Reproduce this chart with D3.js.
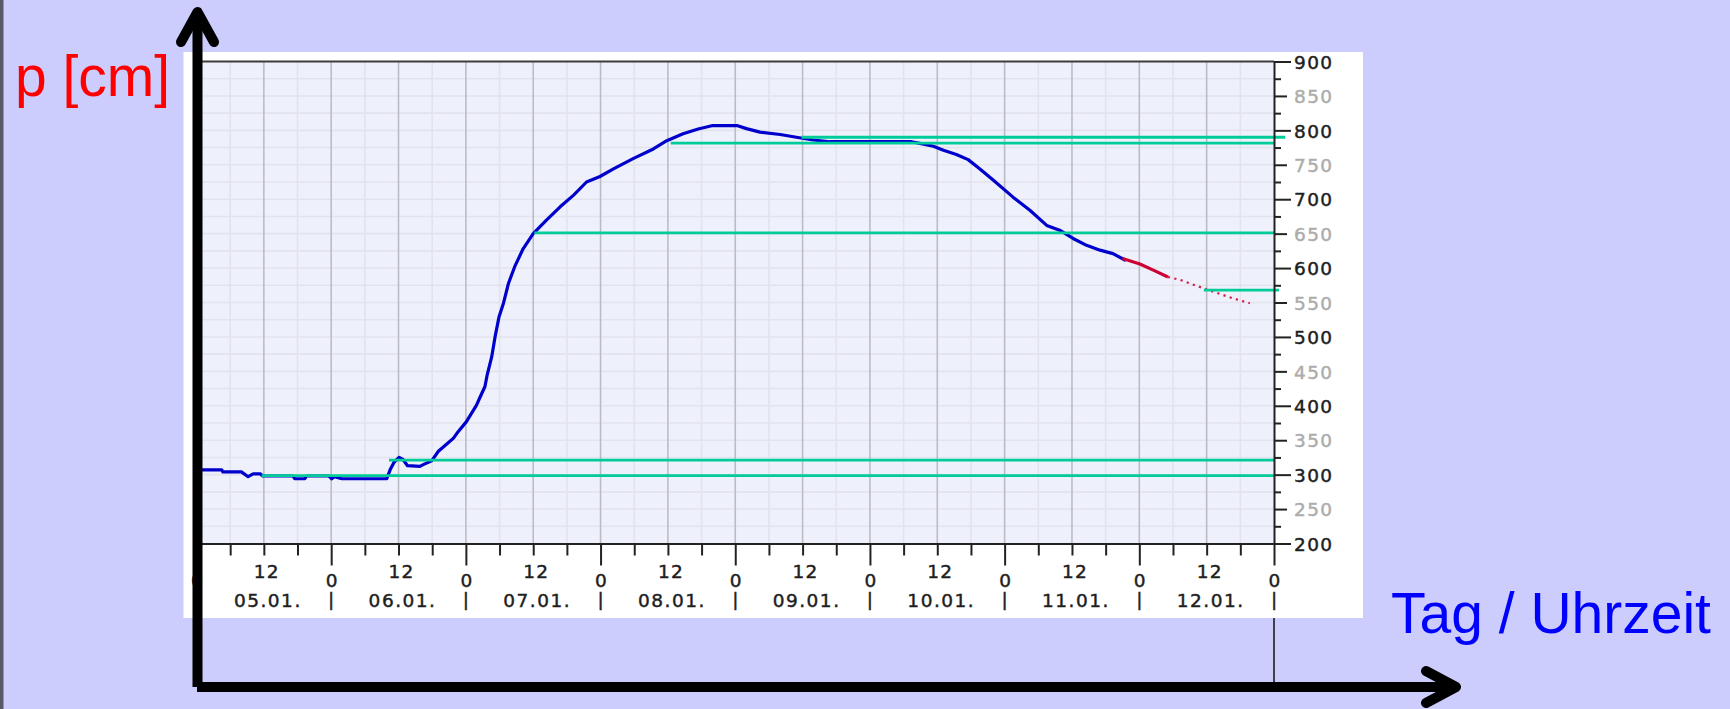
<!DOCTYPE html>
<html>
<head>
<meta charset="utf-8">
<script src="https://cdn.jsdelivr.net/npm/d3@7"></script>
<style>
  html, body { margin: 0; padding: 0; background: #ccccfd; }
  svg { display: block; }
</style>
</head>
<body>
<svg id="chart" width="1730" height="709"></svg>
<script>
// Water level p [cm]; time in hours since 05.01. 00:00
const obsHours = [0, 4.5, 4.7, 8.0, 9.2, 10.1, 11.4, 11.8, 17.2, 17.5, 19.3, 19.6, 23.6, 24.1, 24.6, 25.9,
  33.9, 34.5, 35.2, 36.1, 36.8, 37.6, 39.8, 40.4, 41.9, 43.1, 44.6, 45.8, 46.4, 48.1, 49.0, 49.9,
  50.5, 51.4, 51.8, 52.6, 53.2, 53.9, 54.7, 55.6, 56.7, 58.2, 60.0, 62.4, 64.8, 67.2, 69.5, 71.9,
  74.3, 77.8, 81.4, 83.8, 86.7, 89.4, 92.0, 96.3, 98.0, 100.4, 104.0, 106.9, 109.9, 112.9, 127.4,
  128.9, 131.3, 133.1, 135.4, 137.5, 139.6, 142.0, 145.5, 148.5, 151.5, 153.8, 156.2, 158.6, 161.0,
  163.3, 165.6];
const obsLevel = [307, 307, 304, 304, 297, 301, 301, 298, 298, 294, 294, 298, 298, 294, 297, 294,
  294, 307, 318, 325, 322, 313, 312, 314.5, 320, 334, 344.5, 353, 360, 377, 389, 401,
  412, 428, 445, 471, 500, 529, 549, 578, 602, 628, 650, 670, 689, 706, 725, 733,
  744, 759, 773, 785, 795, 802, 807, 807, 802.5, 797.5, 794, 790, 786, 783.5, 783.5,
  781, 777, 771, 765, 757.5, 744, 727.5, 703, 684, 662, 655, 643, 633, 626,
  621, 611];

// Forecast: near-term (solid) and extended (dotted)
const fcHours = [165.0, 168.1, 170.5, 173.1];
const fcLevel = [614, 606, 597, 587];
const fcExtHours = [173.1, 175.2, 180.0, 184.7, 187.7];
const fcExtLevel = [587, 583, 569, 556, 549];

// Horizontal marker levels with the hours they span
const markLevel = [298.5, 321, 651, 781.5, 790, 568];
const markFrom = [11.6, 34.3, 60.2, 84.5, 107.8, 179.5];
const markTo = [192.1, 192.1, 192.2, 192.1, 194.0, 192.9];

const levelTicks = d3.range(200, 901, 25);
const hourTicks = d3.range(0, 193, 6);
const hourLabelTicks = d3.range(0, 193, 12);
const dayLabels = ["05.01.", "06.01.", "07.01.", "08.01.", "09.01.", "10.01.", "11.01.", "12.01."];

const svg = d3.select("#chart");
const W = 1730, H = 709;
const plot = { left: 196.5, right: 1274, top: 61.5, bottom: 543.5 };

const x = d3.scaleLinear().domain([0, 192]).range([plot.left, plot.right]);
const y = d3.scaleLinear().domain([200, 900]).range([plot.bottom, plot.top]);

// page background and left edge strip
svg.append("rect").attr("width", W).attr("height", H).attr("fill", "#ccccfd");
svg.append("rect").attr("x", 0).attr("y", 0).attr("width", 3.5).attr("height", H).attr("fill", "#585868");

// white chart panel
svg.append("rect").attr("x", 183.5).attr("y", 52).attr("width", 1179.5).attr("height", 566).attr("fill", "#ffffff");

// plot background
svg.append("rect")
  .attr("x", plot.left).attr("y", plot.top)
  .attr("width", plot.right - plot.left).attr("height", plot.bottom - plot.top)
  .attr("fill", "#eef0fc");

const grid = svg.append("g");
grid.selectAll("line.h").data(levelTicks.filter(v => v > 200 && v < 900)).join("line")
  .attr("x1", plot.left).attr("x2", plot.right)
  .attr("y1", d => y(d)).attr("y2", d => y(d))
  .attr("stroke", "#e2e3ec").attr("stroke-width", 1.6);
grid.selectAll("line.vm").data(hourTicks.filter(h => h % 12 !== 0)).join("line")
  .attr("x1", d => x(d)).attr("x2", d => x(d))
  .attr("y1", plot.top).attr("y2", plot.bottom)
  .attr("stroke", "#e2e3ec").attr("stroke-width", 1.6);
grid.selectAll("line.vM").data(hourLabelTicks.filter(h => h > 0 && h < 192)).join("line")
  .attr("x1", d => x(d)).attr("x2", d => x(d))
  .attr("y1", plot.top).attr("y2", plot.bottom)
  .attr("stroke", "#bcbcc4").attr("stroke-width", 1.6);

// top frame
svg.append("line")
  .attr("x1", plot.left).attr("x2", plot.right)
  .attr("y1", plot.top).attr("y2", plot.top)
  .attr("stroke", "#3c3c3c").attr("stroke-width", 2);

// level curves
const line = d3.line().x(d => x(d[0])).y(d => y(d[1]));
svg.append("path")
  .datum(d3.zip(obsHours, obsLevel))
  .attr("d", line).attr("fill", "none")
  .attr("stroke", "#0000cc").attr("stroke-width", 3.2)
  .attr("stroke-linejoin", "round");
svg.append("path")
  .datum(d3.zip(fcHours, fcLevel))
  .attr("d", line).attr("fill", "none")
  .attr("stroke", "#cc0033").attr("stroke-width", 3.2)
  .attr("stroke-linejoin", "round");
svg.append("path")
  .datum(d3.zip(fcExtHours, fcExtLevel))
  .attr("d", line).attr("fill", "none")
  .attr("stroke", "#d81c48").attr("stroke-width", 2.2)
  .attr("stroke-dasharray", "2.2,4.3");

// marker levels
svg.append("g").selectAll("line").data(d3.range(markLevel.length)).join("line")
  .attr("x1", i => x(markFrom[i])).attr("x2", i => x(markTo[i]))
  .attr("y1", i => y(markLevel[i])).attr("y2", i => y(markLevel[i]))
  .attr("stroke", "#00cc99").attr("stroke-width", 2.8);

const tickFont = "'DejaVu Sans', Verdana, sans-serif";

// right value axis
const yAxisG = svg.append("g")
  .attr("transform", `translate(${plot.right},0)`)
  .call(d3.axisRight(y).tickValues(levelTicks).tickSizeOuter(0)
    .tickFormat(v => v % 50 === 0 ? String(v) : ""));
yAxisG.select(".domain").attr("stroke", "#222").attr("stroke-width", 2);
yAxisG.selectAll(".tick line")
  .attr("stroke", "#222").attr("stroke-width", 2)
  .attr("x2", v => v % 100 === 0 ? 17 : (v % 50 === 0 ? 13 : 7));
yAxisG.selectAll(".tick text")
  .attr("x", 20).attr("dy", "0.36em")
  .attr("font-family", tickFont).attr("font-size", 18.5)
  .attr("letter-spacing", 1.4)
  .attr("fill", v => v % 100 === 0 ? "#1e1e1e" : "#acacac")
  .attr("stroke", v => v % 100 === 0 ? "#1e1e1e" : "#acacac")
  .attr("stroke-width", 0.45);
yAxisG.attr("font-family", null).attr("font-size", null);

// bottom time axis
const xAxisG = svg.append("g")
  .attr("transform", `translate(0,${plot.bottom})`)
  .call(d3.axisBottom(x).tickValues(hourTicks).tickSizeOuter(0).tickFormat(""));
xAxisG.select(".domain").attr("stroke", "#222").attr("stroke-width", 2);
xAxisG.selectAll(".tick line")
  .attr("stroke", "#222").attr("stroke-width", 2)
  .attr("y2", h => h % 24 === 0 ? 22 : 12);

const labels = svg.append("g")
  .attr("font-family", tickFont).attr("font-size", 18.5)
  .attr("fill", "#1e1e1e").attr("stroke", "#1e1e1e").attr("stroke-width", 0.45)
  .attr("text-anchor", "middle");
labels.selectAll("text.hr").data(hourLabelTicks).join("text")
  .attr("x", h => x(h) + (h % 24 === 0 ? 1 : 3))
  .attr("y", h => h % 24 === 0 ? 587 : 577.5)
  .attr("letter-spacing", 1.2)
  .text(h => h % 24 === 0 ? "0" : "12");
labels.selectAll("text.day").data(dayLabels).join("text")
  .attr("x", (d, i) => x(12 + 24 * i) + 4)
  .attr("y", 607)
  .attr("letter-spacing", 1.5)
  .text(d => d);
labels.selectAll("text.sep").data(hourLabelTicks.filter(h => h % 24 === 0)).join("text")
  .attr("x", h => x(h))
  .attr("y", 606)
  .text("|");

// thin connector below the right axis
svg.append("line")
  .attr("x1", plot.right).attr("x2", plot.right)
  .attr("y1", 618).attr("y2", 684)
  .attr("stroke", "#111").attr("stroke-width", 1.5);

// heavy black axis arrows
const arrows = svg.append("g").attr("stroke", "#000").attr("fill", "none").attr("stroke-width", 10);
arrows.append("path").attr("d", "M197.5,687 L197.5,12");
arrows.append("path").attr("d", "M181,42 L197.5,12 L214,42")
  .attr("stroke-linecap", "round").attr("stroke-linejoin", "round");
arrows.append("path").attr("d", "M197,687 L1456,687");
arrows.append("path").attr("d", "M1426,671 L1456,687 L1426,703")
  .attr("stroke-linecap", "round").attr("stroke-linejoin", "round");

// axis titles
svg.append("text")
  .attr("x", 15).attr("y", 95.5)
  .attr("font-family", "'Liberation Sans', Arial, sans-serif").attr("font-size", 57)
  .attr("fill", "#ff0000")
  .text("p [cm]");
svg.append("text")
  .attr("x", 1391).attr("y", 633)
  .attr("font-family", "'Liberation Sans', Arial, sans-serif").attr("font-size", 57)
  .attr("fill", "#0000ff")
  .text("Tag / Uhrzeit");
</script>
</body>
</html>
